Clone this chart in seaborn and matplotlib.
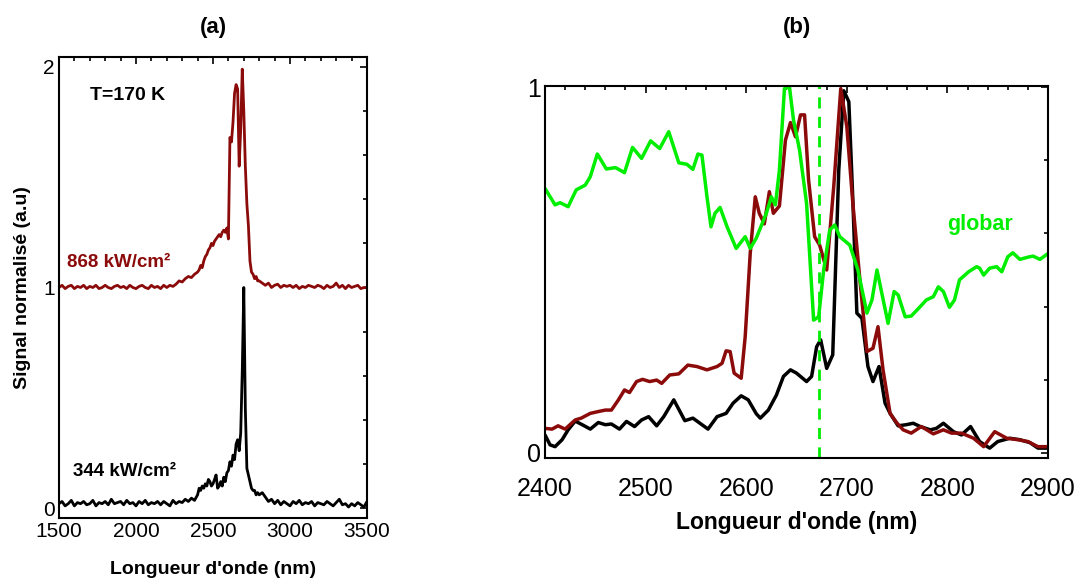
import numpy as np
import pandas as pd
import matplotlib
matplotlib.use("Agg")
import matplotlib.pyplot as plt
import seaborn as sns
from matplotlib.ticker import MultipleLocator

sns.set_style("white")
plt.rcParams['font.family'] = ['Liberation Sans', 'DejaVu Sans']
for k in ('text.color', 'axes.labelcolor', 'xtick.color', 'ytick.color'):
    plt.rcParams[k] = 'black'

# ---- panel (a): full spectra at 170 K ----
# wavelength grid (nm): coarse on the wings, finer around the emission peak
wl_a = np.concatenate([np.arange(1500, 2400, 20),
                       np.arange(2400, 2800, 10),
                       np.arange(2800, 3520, 20)])

# 868 kW/cm2 (drawn shifted by +1)
sig_868 = [
    0.0, 0.01, -0.005, 0.005, 0.01, -0.005, 0.005, 0.0, 0.01, -0.005,
    0.005, 0.0, 0.01, -0.005, 0.0, 0.01, 0.0, -0.005, 0.005, 0.01,
    0.0, 0.005, -0.005, 0.01, 0.0, -0.005, 0.005, 0.01, 0.0, -0.005,
    0.01, 0.0, 0.005, -0.005, 0.01, 0.0, 0.01, 0.005, 0.015, 0.03,
    0.025, 0.04, 0.05, 0.045, 0.06,
    0.07, 0.08, 0.10, 0.09, 0.12, 0.14, 0.15, 0.17, 0.18, 0.20,
    0.19, 0.21, 0.22, 0.23, 0.24, 0.23, 0.25, 0.26, 0.25, 0.27,
    0.22, 0.68, 0.66, 0.75, 0.88, 0.92, 0.90, 0.55, 0.72, 0.99,
    0.80, 0.55, 0.38, 0.28, 0.12, 0.07, 0.06, 0.04, 0.05, 0.03,
    0.03, 0.02, 0.01, 0.02, 0.0, 0.01, 0.015, 0.0, 0.01, 0.005,
    0.01, 0.0, 0.01, -0.005, 0.005, 0.0, 0.01, 0.005, 0.0, 0.01,
    0.005, -0.005, 0.01, 0.0, 0.005, 0.02, 0.0, 0.01, -0.005, 0.01,
    0.0, 0.005, 0.01, -0.005, 0.0, 0.0,
]

# 344 kW/cm2
sig_344 = [
    0.02, 0.03, 0.01, 0.02, 0.035, 0.01, 0.025, 0.02, 0.03, 0.015,
    0.02, 0.035, 0.01, 0.025, 0.02, 0.03, 0.015, 0.04, 0.02, 0.025,
    0.03, 0.015, 0.035, 0.02, 0.025, 0.01, 0.03, 0.02, 0.035, 0.015,
    0.025, 0.02, 0.03, 0.015, 0.03, 0.02, 0.01, 0.035, 0.02, 0.03,
    0.025, 0.04, 0.03, 0.045, 0.035,
    0.06, 0.09, 0.08, 0.10, 0.09, 0.11, 0.10, 0.13, 0.12, 0.10,
    0.11, 0.13, 0.15, 0.09, 0.10, 0.12, 0.10, 0.14, 0.12, 0.16,
    0.17, 0.21, 0.19, 0.24, 0.22, 0.29, 0.31, 0.26, 0.34, 0.62,
    1.00, 0.45, 0.18, 0.15, 0.12, 0.09, 0.08, 0.08, 0.06, 0.07,
    0.06, 0.07, 0.05, 0.03, 0.04, 0.02, 0.035, 0.015, 0.03, 0.02,
    0.01, 0.03, 0.02, 0.035, 0.015, 0.025, 0.02, 0.03, 0.01, 0.025,
    0.02, 0.015, 0.03, 0.02, 0.01, 0.025, 0.04, 0.015, 0.02, 0.005,
    0.02, 0.01, 0.025, 0.015, 0.005, 0.03,
]

# ---- panel (b): zoom 2400-2900 nm ----
wl_glob = [2400, 2410, 2415, 2423, 2431, 2440, 2445, 2452, 2461, 2470,
           2479, 2487, 2496, 2505, 2514, 2523, 2533, 2541, 2547, 2552,
           2556, 2561, 2565, 2569, 2574, 2581, 2590, 2599, 2604, 2610,
           2620, 2625, 2629, 2633, 2638, 2643, 2647, 2653, 2660, 2667,
           2672, 2677, 2683, 2688, 2693, 2703, 2711, 2720, 2725, 2730,
           2741, 2747, 2751, 2758, 2764, 2773, 2779, 2786, 2791, 2796,
           2802, 2807, 2812, 2821, 2829, 2832, 2836, 2842, 2849, 2854,
           2860, 2865, 2872, 2880, 2885, 2892, 2898, 2900]
globar = [0.723, 0.678, 0.684, 0.673, 0.719, 0.732, 0.755, 0.817, 0.776, 0.780,
          0.766, 0.835, 0.805, 0.853, 0.832, 0.878, 0.793, 0.789, 0.775, 0.817,
          0.814, 0.700, 0.618, 0.655, 0.671, 0.618, 0.559, 0.591, 0.559, 0.587,
          0.655, 0.700, 0.678, 0.773, 0.996, 1.0, 0.91, 0.828, 0.682, 0.363,
          0.372, 0.5, 0.609, 0.623, 0.591, 0.568, 0.5, 0.382, 0.418, 0.5,
          0.354, 0.441, 0.432, 0.372, 0.374, 0.40, 0.418, 0.427, 0.454, 0.441,
          0.398, 0.418, 0.473, 0.495, 0.509, 0.505, 0.486, 0.505, 0.509, 0.495,
          0.536, 0.547, 0.529, 0.535, 0.538, 0.529, 0.541, 0.545]

wl_868 = [2400, 2407, 2413, 2420, 2430, 2436, 2445, 2453, 2460, 2466,
          2473, 2479, 2484, 2491, 2497, 2504, 2511, 2516, 2524, 2533,
          2542, 2551, 2561, 2571, 2576, 2580, 2584, 2588, 2595, 2599,
          2604, 2609, 2613, 2618, 2623, 2627, 2633, 2639, 2644, 2649,
          2654, 2658, 2662, 2668, 2673, 2680, 2687, 2694, 2700, 2706,
          2713, 2720, 2726, 2731, 2736, 2743, 2750, 2756, 2764, 2774,
          2786, 2796, 2804, 2814, 2826, 2836, 2847, 2859, 2870, 2880,
          2890, 2900]
zoom_868 = [0.067, 0.065, 0.074, 0.065, 0.090, 0.095, 0.108, 0.113, 0.117, 0.117,
            0.145, 0.172, 0.165, 0.195, 0.201, 0.195, 0.199, 0.190, 0.213, 0.216,
            0.240, 0.236, 0.227, 0.236, 0.245, 0.279, 0.277, 0.218, 0.204, 0.318,
            0.546, 0.700, 0.655, 0.626, 0.714, 0.655, 0.675, 0.855, 0.903, 0.864,
            0.924, 0.924, 0.746, 0.591, 0.568, 0.5, 0.728, 0.996, 0.892, 0.682,
            0.473, 0.277, 0.286, 0.345, 0.227, 0.108, 0.081, 0.063, 0.054, 0.072,
            0.052, 0.063, 0.054, 0.054, 0.04, 0.017, 0.058, 0.04, 0.036, 0.031,
            0.017, 0.017]

wl_344 = [2400, 2405, 2410, 2417, 2423, 2430, 2437, 2445, 2453, 2460,
          2466, 2474, 2481, 2489, 2496, 2503, 2511, 2518, 2528, 2539,
          2547, 2554, 2562, 2571, 2580, 2587, 2595, 2602, 2610, 2614,
          2622, 2630, 2637, 2644, 2650, 2660, 2665, 2670, 2674, 2680,
          2686, 2692, 2697, 2702, 2706, 2710, 2715, 2721, 2726, 2732,
          2738, 2743, 2751, 2759, 2766, 2773, 2783, 2789, 2796, 2806,
          2814, 2823, 2832, 2842, 2850, 2862, 2872, 2882, 2890, 2900]
zoom_344 = [0.049, 0.022, 0.017, 0.036, 0.063, 0.087, 0.077, 0.065, 0.083, 0.077,
            0.079, 0.065, 0.086, 0.072, 0.090, 0.099, 0.074, 0.099, 0.145, 0.088,
            0.095, 0.081, 0.065, 0.099, 0.108, 0.136, 0.156, 0.145, 0.107, 0.095,
            0.117, 0.158, 0.209, 0.227, 0.218, 0.195, 0.209, 0.29, 0.309, 0.231,
            0.268, 0.773, 0.99, 0.96, 0.691, 0.382, 0.368, 0.236, 0.195, 0.236,
            0.136, 0.108, 0.074, 0.077, 0.081, 0.072, 0.063, 0.067, 0.081, 0.058,
            0.049, 0.072, 0.031, 0.013, 0.031, 0.040, 0.036, 0.028, 0.013, 0.013]

dashed_wl = 2672

red = "#8b0a0a"
green = "#00ee00"

df_a = pd.DataFrame({'wl': wl_a, 'hi': np.array(sig_868) + 1, 'lo': sig_344})

fig = plt.figure(figsize=(10.82, 5.81), dpi=100)
ax1 = fig.add_axes([0.0545, 0.1084, 0.2847, 0.7935])
ax2 = fig.add_axes([0.5037, 0.2117, 0.4649, 0.6403])

sns.lineplot(data=df_a, x='wl', y='lo', ax=ax1, color='black', lw=2.0, estimator=None)
sns.lineplot(data=df_a, x='wl', y='hi', ax=ax1, color=red, lw=2.0, estimator=None)
ax1.set_xlim(1500, 3500)
ax1.set_ylim(-0.045, 2.045)
ax1.xaxis.set_major_locator(MultipleLocator(500))
ax1.xaxis.set_minor_locator(MultipleLocator(100))
ax1.yaxis.set_major_locator(MultipleLocator(1))
ax1.yaxis.set_minor_locator(MultipleLocator(0.2))
ax1.tick_params(labelsize=15, pad=3)
ax1.set_xlabel("Longueur d'onde (nm)", fontsize=14, fontweight='bold', labelpad=14)
ax1.set_ylabel("Signal normalisé (a.u)", fontsize=14, fontweight='bold', labelpad=9)
ax1.set_title("(a)", fontsize=16, fontweight='bold', pad=17)
ax1.text(0.10, 0.917, "T=170 K", transform=ax1.transAxes, fontsize=14,
         fontweight='bold', va='center')
ax1.text(0.026, 0.555, "868 kW/cm²", transform=ax1.transAxes, fontsize=13.5,
         fontweight='bold', color=red, va='center')
ax1.text(0.045, 0.10, "344 kW/cm²", transform=ax1.transAxes, fontsize=13.5,
         fontweight='bold', color='black', va='center')

df_g = pd.DataFrame({'wl': wl_glob, 'v': globar})
df_r = pd.DataFrame({'wl': wl_868, 'v': zoom_868})
df_k = pd.DataFrame({'wl': wl_344, 'v': zoom_344})
sns.lineplot(data=df_k, x='wl', y='v', ax=ax2, color='black', lw=2.5, estimator=None)
sns.lineplot(data=df_r, x='wl', y='v', ax=ax2, color=red, lw=2.5, estimator=None)
sns.lineplot(data=df_g, x='wl', y='v', ax=ax2, color=green, lw=2.5, estimator=None)
ax2.axvline(dashed_wl, color=green, lw=2, ls=(0, (4, 3)))
ax2.set_xlim(2400, 2900)
ax2.set_ylim(-0.014, 1.003)
ax2.xaxis.set_major_locator(MultipleLocator(100))
ax2.xaxis.set_minor_locator(MultipleLocator(20))
ax2.yaxis.set_major_locator(MultipleLocator(1))
ax2.yaxis.set_minor_locator(MultipleLocator(0.2))
ax2.tick_params(labelsize=18)
ax2.tick_params(axis='x', pad=14)
ax2.tick_params(axis='y', pad=3)
ax2.set_xlabel("Longueur d'onde (nm)", fontsize=16.5, fontweight='bold', labelpad=7)
ax2.set_ylabel("")
ax2.set_title("(b)", fontsize=16, fontweight='bold', pad=38)
ax2.text(0.80, 0.629, "globar", transform=ax2.transAxes, fontsize=15.5,
         fontweight='bold', color=green, va='center')

for ax in (ax1, ax2):
    for s in ax.spines.values():
        s.set_linewidth(1.5)
        s.set_color('black')
    ax.tick_params(which='both', direction='in', top=True, right=True, width=1.2)
    ax.tick_params(which='major', length=5)
    ax.tick_params(which='minor', length=3)
    ax.grid(False)

fig.savefig("out.png", dpi=100)
